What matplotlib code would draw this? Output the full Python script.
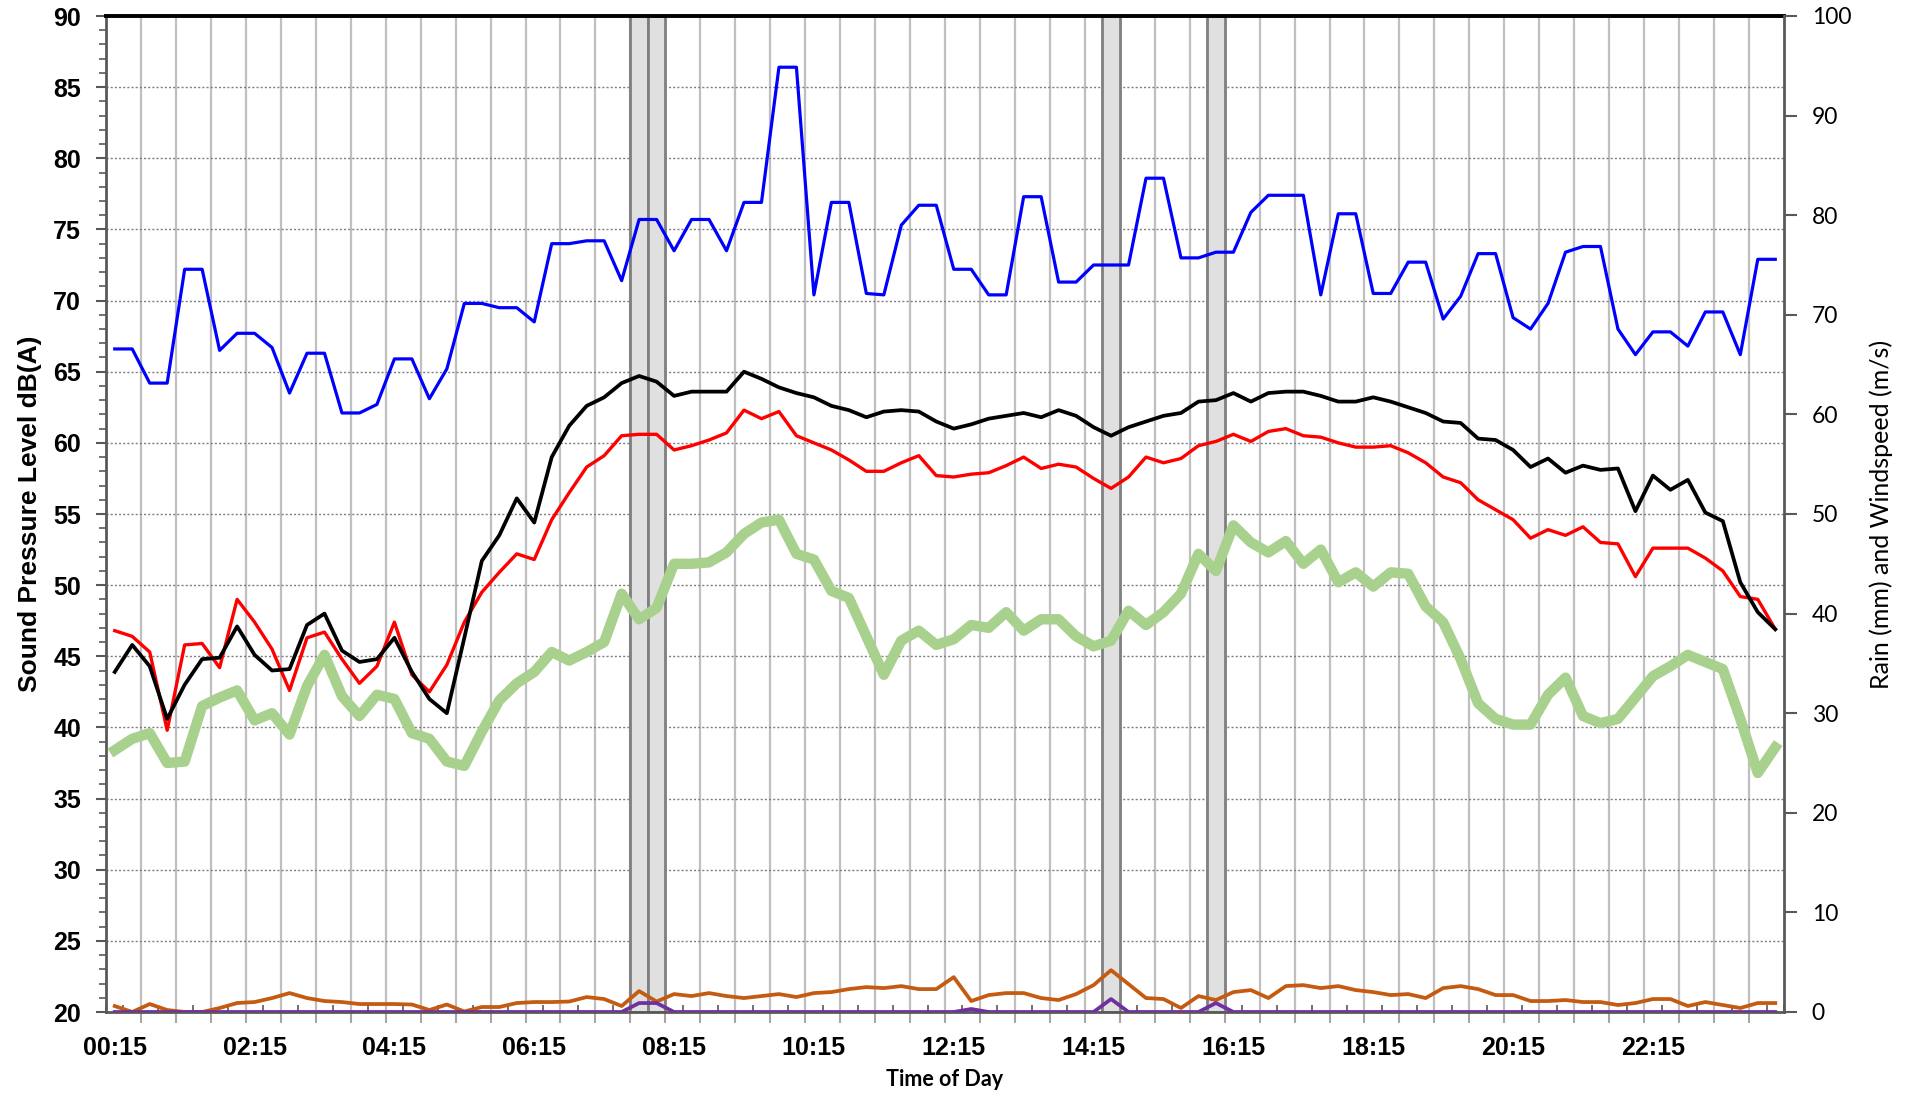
import numpy as np
import matplotlib
matplotlib.use("Agg")
import matplotlib.pyplot as plt

plt.rcParams['font.family'] = ['Liberation Sans', 'DejaVu Sans']

# 15 minute periods, 00:15 .. 24:00
times = [f"{(15 * (k + 1)) // 60:02d}:{(15 * (k + 1)) % 60:02d}" for k in range(96)]

# sound levels dB(A)
l_blue = [66.6, 66.6, 64.2, 64.2, 72.2, 72.2, 66.5, 67.7, 67.7, 66.7, 63.5, 66.3,
          66.3, 62.1, 62.1, 62.7, 65.9, 65.9, 63.1, 65.2, 69.8, 69.8, 69.5, 69.5,
          68.5, 74.0, 74.0, 74.2, 74.2, 71.4, 75.7, 75.7, 73.5, 75.7, 75.7, 73.5,
          76.9, 76.9, 86.4, 86.4, 70.4, 76.9, 76.9, 70.5, 70.4, 75.3, 76.7, 76.7,
          72.2, 72.2, 70.4, 70.4, 77.3, 77.3, 71.3, 71.3, 72.5, 72.5, 72.5, 78.6,
          78.6, 73.0, 73.0, 73.4, 73.4, 76.2, 77.4, 77.4, 77.4, 70.4, 76.1, 76.1,
          70.5, 70.5, 72.7, 72.7, 68.7, 70.3, 73.3, 73.3, 68.8, 68.0, 69.8, 73.4,
          73.8, 73.8, 68.0, 66.2, 67.8, 67.8, 66.8, 69.2, 69.2, 66.2, 72.9, 72.9]

l_black = [43.9, 45.8, 44.3, 40.6, 43.0, 44.8, 44.9, 47.1, 45.1, 44.0, 44.1, 47.2,
           48.0, 45.4, 44.6, 44.8, 46.3, 43.9, 42.0, 41.0, 46.3, 51.7, 53.5, 56.1,
           54.4, 59.0, 61.2, 62.6, 63.2, 64.2, 64.7, 64.3, 63.3, 63.6, 63.6, 63.6,
           65.0, 64.5, 63.9, 63.5, 63.2, 62.6, 62.3, 61.8, 62.2, 62.3, 62.2, 61.5,
           61.0, 61.3, 61.7, 61.9, 62.1, 61.8, 62.3, 61.9, 61.1, 60.5, 61.1, 61.5,
           61.9, 62.1, 62.9, 63.0, 63.5, 62.9, 63.5, 63.6, 63.6, 63.3, 62.9, 62.9,
           63.2, 62.9, 62.5, 62.1, 61.5, 61.4, 60.3, 60.2, 59.5, 58.3, 58.9, 57.9,
           58.4, 58.1, 58.2, 55.2, 57.7, 56.7, 57.4, 55.1, 54.5, 50.2, 48.1, 46.9]

l_red = [46.8, 46.4, 45.3, 39.8, 45.8, 45.9, 44.2, 49.0, 47.4, 45.5, 42.6, 46.3,
         46.7, 44.8, 43.1, 44.3, 47.4, 43.7, 42.5, 44.4, 47.4, 49.5, 50.9, 52.2,
         51.8, 54.6, 56.5, 58.3, 59.1, 60.5, 60.6, 60.6, 59.5, 59.8, 60.2, 60.7,
         62.3, 61.7, 62.2, 60.5, 60.0, 59.5, 58.8, 58.0, 58.0, 58.6, 59.1, 57.7,
         57.6, 57.8, 57.9, 58.4, 59.0, 58.2, 58.5, 58.3, 57.5, 56.8, 57.6, 59.0,
         58.6, 58.9, 59.8, 60.1, 60.6, 60.1, 60.8, 61.0, 60.5, 60.4, 60.0, 59.7,
         59.7, 59.8, 59.3, 58.6, 57.6, 57.2, 56.0, 55.3, 54.6, 53.3, 53.9, 53.5,
         54.1, 53.0, 52.9, 50.6, 52.6, 52.6, 52.6, 51.9, 51.0, 49.2, 49.0, 46.9]

l_green = [38.4, 39.2, 39.6, 37.5, 37.6, 41.5, 42.1, 42.6, 40.5, 41.0, 39.5, 42.9,
           45.1, 42.2, 40.8, 42.3, 42.0, 39.6, 39.2, 37.6, 37.3, 39.7, 41.9, 43.1,
           43.9, 45.3, 44.7, 45.3, 46.0, 49.4, 47.6, 48.4, 51.5, 51.5, 51.6, 52.3,
           53.6, 54.4, 54.6, 52.2, 51.8, 49.6, 49.1, 46.4, 43.7, 46.1, 46.8, 45.8,
           46.2, 47.2, 47.0, 48.1, 46.8, 47.6, 47.6, 46.4, 45.7, 46.1, 48.2, 47.2,
           48.1, 49.4, 52.2, 51.0, 54.2, 53.0, 52.3, 53.1, 51.5, 52.5, 50.2, 50.9,
           49.9, 50.9, 50.8, 48.5, 47.4, 44.8, 41.7, 40.6, 40.2, 40.2, 42.3, 43.5,
           40.8, 40.3, 40.6, 42.1, 43.6, 44.3, 45.1, 44.6, 44.1, 40.6, 36.8, 38.6]

# windspeed (m/s) and rain (mm)
wind = [0.6, 0.0, 0.8, 0.2, 0.0, 0.0, 0.4, 0.9, 1.0, 1.4, 1.9, 1.4,
        1.1, 1.0, 0.8, 0.8, 0.8, 0.75, 0.2, 0.75, 0.05, 0.5, 0.5, 0.9,
        1.0, 1.0, 1.05, 1.5, 1.3, 0.6, 2.1, 1.05, 1.8, 1.6, 1.9, 1.6,
        1.4, 1.6, 1.8, 1.5, 1.9, 2.0, 2.3, 2.5, 2.4, 2.6, 2.3, 2.3,
        3.5, 1.1, 1.7, 1.9, 1.9, 1.4, 1.2, 1.8, 2.7, 4.2, 2.8, 1.4,
        1.3, 0.4, 1.6, 1.2, 2.0, 2.2, 1.4, 2.6, 2.7, 2.4, 2.6, 2.2,
        2.0, 1.7, 1.8, 1.4, 2.4, 2.6, 2.3, 1.7, 1.7, 1.1, 1.1, 1.2,
        1.0, 1.0, 0.7, 0.9, 1.3, 1.3, 0.6, 1.0, 0.7, 0.4, 0.9, 0.9]

rain = [0.0] * 96
rain[30] = 0.9
rain[31] = 0.9
rain[49] = 0.3
rain[57] = 1.3
rain[63] = 0.9

# periods flagged as rain (grey columns)
rain_periods = [30, 31, 57, 63]

x = np.arange(len(times))

fig = plt.figure(figsize=(19.08, 11), dpi=100)
ax = fig.add_axes([106 / 1908, 88 / 1100, 1678 / 1908, 996 / 1100])
ax2 = ax.twinx()

ax.set_xlim(-0.5, 95.5)
ax.set_ylim(20, 90)
ax2.set_ylim(0, 100)

ax.bar(rain_periods, [90 - 20] * len(rain_periods), bottom=20, width=1.0,
       color='#E0E0E0', edgecolor='#7F7F7F', linewidth=2, zorder=1)

ax.plot(x, l_green, color='#A9D18E', lw=7.5, solid_joinstyle='round', zorder=3)
ax.plot(x, l_blue, color='#0000FF', lw=2.3, zorder=4)
ax.plot(x, l_red, color='#FF0000', lw=2.4, zorder=4)
ax.plot(x, l_black, color='#000000', lw=2.7, zorder=5)

ax2.plot(x, wind, color='#C55A11', lw=2.7)
ax2.plot(x, rain, color='#7030A0', lw=2.7)

# y axes
ax.set_yticks(np.arange(20, 91, 5))
ax.set_yticks(np.arange(20, 91, 1), minor=True)
ax.tick_params(axis='y', which='major', direction='out', length=7, width=1.5,
               color='#595959', labelsize=18, pad=11)
ax.tick_params(axis='y', which='minor', direction='out', length=5, width=1.2,
               color='#595959')
for lab in ax.get_yticklabels():
    lab.set_fontweight('bold')
ax.yaxis.grid(True, which='major', color='#7F7F7F', lw=1.0, linestyle=(0, (1.5, 1.5)))

ax2.set_yticks(np.arange(0, 101, 10))
ax2.tick_params(axis='y', direction='out', length=9, width=1.5, color='#595959',
                labelsize=16.5, pad=11)
for lab in ax2.get_yticklabels():
    lab.set_family(['Lato', 'DejaVu Sans'])

# x axis: gridlines every 30 min, small ticks every 15 min, labels every 2 h
ax.set_xticks(np.arange(1.5, 95, 2))
ax.set_xticks(np.arange(-0.5, 96, 1), minor=True)
ax.tick_params(axis='x', which='major', direction='out', length=8, width=1.5,
               color='#A6A6A6', labelbottom=False)
ax.tick_params(axis='x', which='minor', direction='in', length=5, width=1.2,
               color='#595959')
ax.xaxis.grid(True, which='major', color='#BFBFBF', lw=1.6)
ax.set_axisbelow(True)

sec = ax.secondary_xaxis('bottom')
sec.set_xticks(x[::8], [times[k] for k in x[::8]])
sec.tick_params(length=0, pad=17, labelsize=18)
sec.spines['bottom'].set_visible(False)
for lab in sec.get_xticklabels():
    lab.set_fontweight('bold')

for s in ['left', 'bottom']:
    ax.spines[s].set_color('#595959')
    ax.spines[s].set_linewidth(2)
ax.spines['top'].set_color('#000000')
ax.spines['top'].set_linewidth(2.8)
ax.spines['right'].set_visible(False)
for s in ['left', 'bottom', 'top']:
    ax2.spines[s].set_visible(False)
ax2.spines['right'].set_color('#595959')
ax2.spines['right'].set_linewidth(2)

ax.set_ylabel('Sound Pressure Level dB(A)', fontsize=19, fontweight='bold', labelpad=8)
ax2.set_ylabel('Rain (mm) and Windspeed (m/s)', fontsize=18, family=['Lato', 'DejaVu Sans'],
               labelpad=13)
fig.text((106 + 1784) / 2 / 1908, 1 - 1080 / 1100, 'Time of Day', ha='center', va='center',
         fontsize=15.5, fontweight='bold', family=['Lato', 'DejaVu Sans'])

fig.savefig('out.png', dpi=100)
